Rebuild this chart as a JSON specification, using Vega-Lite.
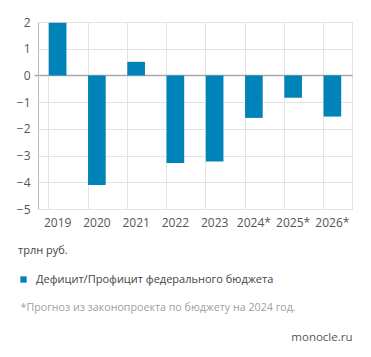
{
  "$schema": "https://vega.github.io/schema/vega-lite/v6.json",
  "autosize": "none",
  "width": 314,
  "height": 187,
  "padding": {"left": 38, "top": 22, "right": 19, "bottom": 148},
  "background": "white",
  "config": {
    "font": "Open Sans",
    "view": {"stroke": "#e3e3e3", "strokeWidth": 1},
    "axis": {"labelColor": "#555555", "labelFontSize": 12, "gridColor": "#e3e3e3", "gridWidth": 1}
  },
  "data": {
    "values": [
      {"year": "2019", "value": 1.97, "series": "Дефицит/Профицит федерального бюджета"},
      {"year": "2020", "value": -4.1, "series": "Дефицит/Профицит федерального бюджета"},
      {"year": "2021", "value": 0.51, "series": "Дефицит/Профицит федерального бюджета"},
      {"year": "2022", "value": -3.28, "series": "Дефицит/Профицит федерального бюджета"},
      {"year": "2023", "value": -3.22, "series": "Дефицит/Профицит федерального бюджета"},
      {"year": "2024*", "value": -1.59, "series": "Дефицит/Профицит федерального бюджета"},
      {"year": "2025*", "value": -0.84, "series": "Дефицит/Профицит федерального бюджета"},
      {"year": "2026*", "value": -1.54, "series": "Дефицит/Профицит федерального бюджета"}
    ]
  },
  "mark": {"type": "bar", "color": "#0083b9"},
  "encoding": {
    "x": {
      "field": "year", "type": "ordinal",
      "scale": {"paddingInner": 0.55, "paddingOuter": 0.275},
      "axis": {
        "labelAngle": 0, "domain": false, "ticks": false, "labelPadding": 8,
        "grid": true, "bandPosition": 0,
        "title": "monocle.ru", "titleAnchor": "end", "titleAlign": "right",
        "titleX": 314, "titleY": 131, "titleBaseline": "alphabetic",
        "titleFontWeight": "normal", "titleFontSize": 11.5, "titleColor": "#555555"
      }
    },
    "y": {
      "field": "value", "type": "quantitative",
      "scale": {"domain": [-5, 2], "nice": false},
      "axis": {
        "values": [-5, -4, -3, -2, -1, 0, 1, 2],
        "labelOverlap": false, "labelFlush": false, "grid": true,
        "gridColor": {"condition": {"test": "datum.value === 0", "value": "#aaaaaa"}, "value": "#e3e3e3"},
        "gridWidth": {"condition": {"test": "datum.value === 0", "value": 1.5}, "value": 1},
        "domainColor": "#bbbbbb", "ticks": true, "tickSize": 4,
        "tickColor": {"condition": {"test": "datum.value === 0", "value": "#aaaaaa"}, "value": "rgba(0,0,0,0)"},
        "tickWidth": 1.5,
        "labelPadding": 4,
        "title": "*Прогноз из законопроекта по бюджету на 2024 год.",
        "titleAngle": 0, "titleAlign": "left",
        "titleX": -18, "titleY": 288, "titleBaseline": "alphabetic",
        "titleFontWeight": "normal", "titleFontSize": 10.7, "titleColor": "#a0a0a0"
      }
    },
    "fill": {
      "field": "series", "type": "nominal",
      "scale": {"range": ["#0083b9"]},
      "legend": {
        "title": "трлн руб.", "titleFontWeight": "normal", "titleFontSize": 11,
        "titleColor": "#444444", "titlePadding": 18,
        "orient": "none", "legendX": -20, "legendY": 223,
        "symbolType": "square", "symbolSize": 40, "labelFontSize": 11,
        "labelColor": "#444444", "labelOffset": 7, "labelLimit": 400
      }
    }
  }
}
